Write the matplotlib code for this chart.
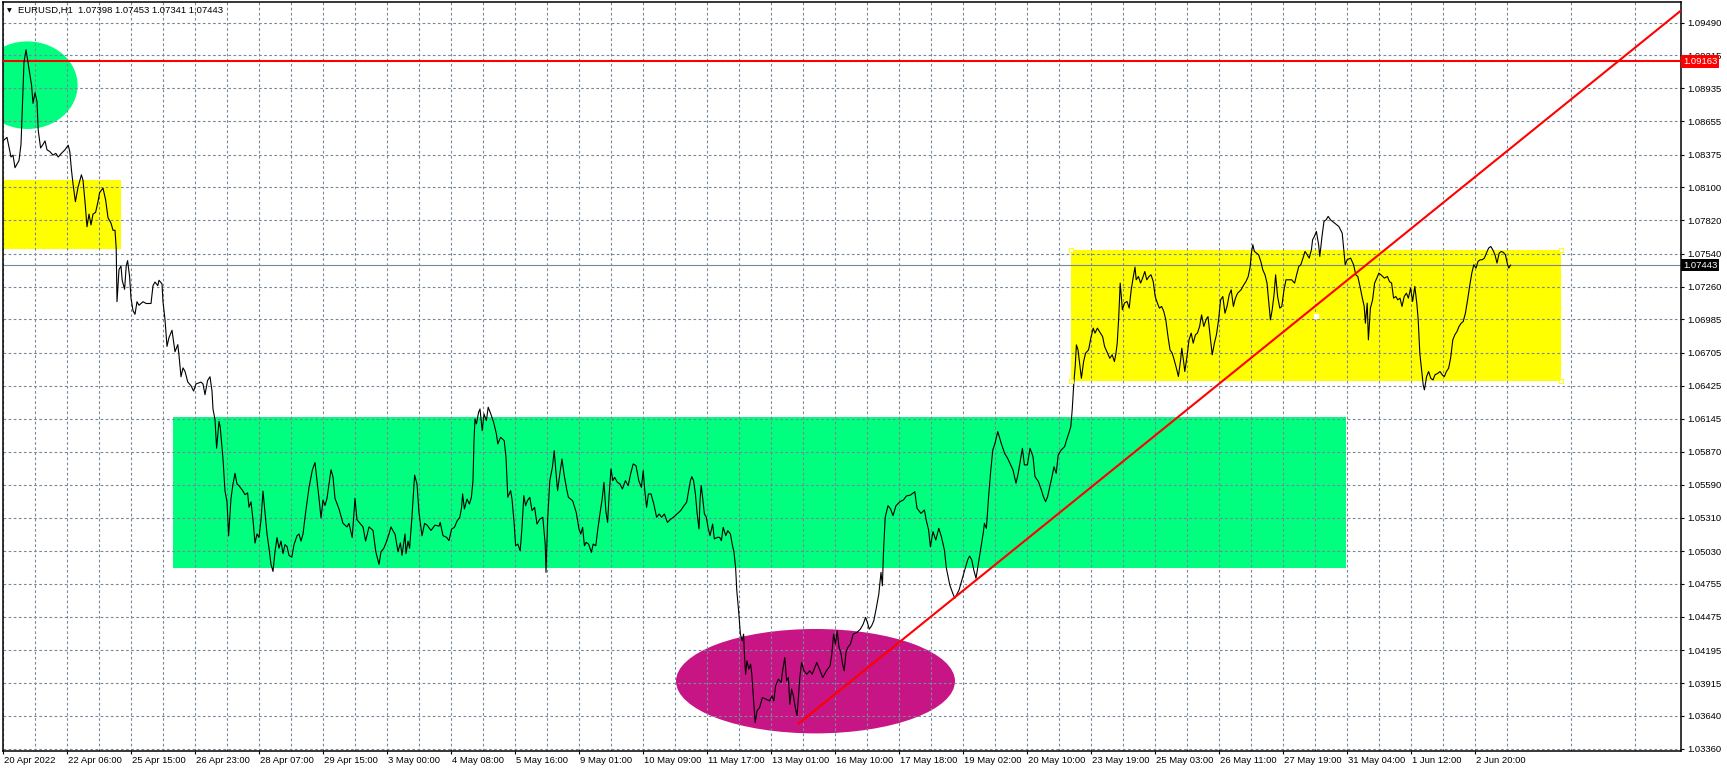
import matplotlib
matplotlib.use("Agg")
import matplotlib.pyplot as plt
import matplotlib.transforms as mtransforms
from matplotlib.patches import Ellipse, Rectangle

# EURUSD H1, closes. bar 0 = 20 Apr 2022 00:00
price_trace = [
    (0, 1.08491), (2, 1.08521), (4, 1.08355), (5, 1.08371), (6, 1.08265), (8, 1.08325), (9, 1.08461),
    (10, 1.08913), (10.5, 1.09155), (11.5, 1.09260), (12.6, 1.09140), (14.3, 1.08959), (15, 1.08808),
    (16, 1.08898), (17, 1.08823), (17.6, 1.08582), (18.8, 1.08431), (20, 1.08461), (21, 1.08491),
    (22, 1.08416), (23.4, 1.08401), (25, 1.08371), (26.4, 1.08386), (27.6, 1.08355), (29.2, 1.08386),
    (31, 1.08416), (32.6, 1.08455), (33.4, 1.08401), (34.2, 1.08250), (35, 1.08129), (36.2, 1.07978),
    (37.5, 1.08099), (39.2, 1.08205), (40, 1.08159), (41, 1.07978), (42, 1.07767), (43, 1.07873),
    (44, 1.07782), (45, 1.07873), (46.3, 1.07888), (47.5, 1.07978), (48.3, 1.08054), (50, 1.08093),
    (51.3, 1.07994), (52.5, 1.07843), (54, 1.07797), (55, 1.07737), (56, 1.07737), (56.6, 1.07586),
    (57, 1.07134), (58, 1.07405), (59, 1.07435), (59.6, 1.07315), (60.8, 1.07239), (61.6, 1.07435),
    (62.3, 1.07481), (63.3, 1.07345), (64, 1.07164), (65, 1.07059), (66, 1.07028), (67, 1.07134),
    (68, 1.07104), (69, 1.07119), (70, 1.07134), (71.6, 1.07119), (74, 1.07119), (75, 1.07270),
    (76, 1.07300), (77.4, 1.07270), (78, 1.07315), (79.5, 1.07285), (80, 1.07134), (81, 1.06983),
    (82, 1.06757), (83, 1.06832), (84.5, 1.06893), (86, 1.06712), (87.4, 1.06772), (88, 1.06682),
    (89, 1.06501), (90, 1.06576), (91, 1.06546), (92.4, 1.06456), (94, 1.06425), (95.3, 1.06380),
    (96.5, 1.06440), (99, 1.06456), (100, 1.06440), (101, 1.06350), (102.3, 1.06470), (103.5, 1.06501),
    (104.5, 1.06380), (105, 1.06229), (106, 1.06139), (106.8, 1.05898), (108, 1.06124), (108.6, 1.06078),
    (110, 1.05807), (111, 1.05536), (112, 1.05445), (112.8, 1.05159), (114, 1.05475), (115, 1.05596),
    (116, 1.05686), (117, 1.05596), (118, 1.05581), (120, 1.05536), (121, 1.05506), (122.3, 1.05521),
    (123, 1.05400), (124, 1.05445), (125, 1.05294), (126, 1.05098), (127, 1.05174), (128, 1.05144),
    (129, 1.05294), (130, 1.05536), (131, 1.05355), (132, 1.05174), (133, 1.05054), (134, 1.04918),
    (135, 1.04858), (136, 1.05024), (137, 1.05144), (138, 1.05054), (139, 1.05114), (140, 1.05009),
    (141, 1.05084), (142, 1.05069), (143, 1.04994), (144.4, 1.04978), (145.5, 1.05084), (147, 1.05159),
    (148, 1.05174), (149, 1.05114), (150, 1.05174), (151.3, 1.05355), (153, 1.05566), (154.7, 1.05716),
    (156, 1.05777), (157, 1.05626), (158, 1.05475), (159, 1.05310), (160, 1.05460), (161, 1.05415),
    (162, 1.05475), (164, 1.05716), (165, 1.05656), (166, 1.05475), (168, 1.05385), (170, 1.05264),
    (172, 1.05234), (173, 1.05264), (174.6, 1.05144), (176, 1.05475), (177, 1.05294), (180, 1.05234),
    (181.3, 1.05114), (183, 1.05234), (185, 1.05204), (186.4, 1.05024), (188, 1.04918), (189, 1.05024),
    (190.4, 1.05054), (191.5, 1.05099), (193, 1.05174), (194, 1.05234), (195.4, 1.05189), (196, 1.05174),
    (197.5, 1.05024), (198.7, 1.05099), (199.5, 1.04994), (201, 1.05174), (201.5, 1.05009), (202.5, 1.05114),
    (203.3, 1.05054), (204.5, 1.05325), (205.8, 1.05671), (207, 1.05596), (208, 1.05355), (209.5, 1.05159),
    (210.8, 1.05264), (212, 1.05249), (214, 1.05204), (216, 1.05249), (218, 1.05240),
    (218.6, 1.05272), (220, 1.05160), (221.8, 1.05146), (223, 1.05118), (224.3, 1.05216), (225.7, 1.05230),
    (227.1, 1.05286), (228.4, 1.05315), (229.3, 1.05399), (229.8, 1.05512), (230.7, 1.05385), (232, 1.05469),
    (233.2, 1.05427), (234.2, 1.05484), (235, 1.05624), (235.5, 1.05962), (236, 1.06145), (236.7, 1.06103),
    (237.8, 1.06201), (238.5, 1.06229), (239.6, 1.06046), (240.5, 1.06187), (241.7, 1.06131), (242.6, 1.06244),
    (243.9, 1.06187), (245.3, 1.06117), (246.7, 1.06018), (247.4, 1.05934), (248.8, 1.05990), (250.6, 1.05962),
    (251.5, 1.05821), (252.4, 1.05484), (253.8, 1.05540), (254.5, 1.05469), (255.6, 1.05258), (256.3, 1.05075),
    (257.4, 1.05089), (258.6, 1.05033), (259.5, 1.05230), (260.4, 1.05498), (261.3, 1.05413), (262.2, 1.05455),
    (263.4, 1.05484), (264.5, 1.05371), (265.8, 1.05399), (267, 1.05258), (268.4, 1.05300), (269.9, 1.05315),
    (271.1, 1.05089), (271.5, 1.04850), (272.3, 1.05286), (273.4, 1.05624), (274.7, 1.05737), (275.6, 1.05878),
    (276.4, 1.05709), (277.3, 1.05540), (278.4, 1.05681), (279.5, 1.05807), (280.5, 1.05681), (281.8, 1.05554),
    (282.7, 1.05484), (284.8, 1.05455), (286.6, 1.05357), (288, 1.05216), (288.9, 1.05174), (289.8, 1.05230),
    (290.7, 1.05075), (291.6, 1.05103), (292.8, 1.05089), (294.2, 1.05019), (295.1, 1.05089), (296.4, 1.05075),
    (297.3, 1.05202), (298.7, 1.05371), (299.6, 1.05469), (300.5, 1.05610), (301.4, 1.05371), (302.3, 1.05272),
    (303.1, 1.05512), (304, 1.05723), (304.9, 1.05624), (305.8, 1.05652), (307.2, 1.05610), (308.5, 1.05596),
    (309.7, 1.05554), (311.2, 1.05624), (312.6, 1.05582), (313.8, 1.05681), (315.1, 1.05765), (316.5, 1.05751),
    (317.9, 1.05624), (319.2, 1.05568), (320.1, 1.05709), (320.9, 1.05540), (321.8, 1.05399), (322.7, 1.05512),
    (324, 1.05512), (325.4, 1.05427), (326.8, 1.05315), (328.1, 1.05343), (329.3, 1.05315), (330.7, 1.05343),
    (332.2, 1.05272), (333.9, 1.05300), (335.2, 1.05315), (337, 1.05343), (338.8, 1.05371), (340.5, 1.05413),
    (341.8, 1.05441), (342.8, 1.05540), (343.7, 1.05624), (344.4, 1.05658), (345.3, 1.05624), (346.2, 1.05512),
    (347.1, 1.05343), (348, 1.05216), (348.5, 1.05455), (349.1, 1.05582), (349.8, 1.05484), (350.7, 1.05343),
    (351.7, 1.05315), (352.5, 1.05230), (353.5, 1.05160), (354.8, 1.05258), (355.7, 1.05132), (357.1, 1.05146),
    (358.3, 1.05146), (359.2, 1.05118), (360.1, 1.05230), (361.4, 1.05160), (362.4, 1.05202), (363.7, 1.05174),
    (364.6, 1.05089), (365.5, 1.05019), (366.3, 1.04892), (366.9, 1.04695), (367.8, 1.04526), (368.7, 1.04329),
    (369.6, 1.04273), (370.3, 1.04329), (370.8, 1.04132), (371.3, 1.03991), (372, 1.04104), (372.9, 1.04034),
    (373.8, 1.04076), (374.4, 1.03991), (375.3, 1.03766), (376.1, 1.03583), (377, 1.03682), (378.3, 1.03710),
    (379.7, 1.03794), (381.5, 1.03780), (383.3, 1.03766), (384.5, 1.03808), (385.4, 1.03766), (386.3, 1.03893),
    (387.7, 1.03949), (389.1, 1.03921), (389.8, 1.04020), (390.9, 1.04132), (391.8, 1.03935), (392.7, 1.03963),
    (393.4, 1.03738), (394.3, 1.03865), (395.2, 1.03808), (396.3, 1.03696), (397, 1.03640), (397.7, 1.03794),
    (398.4, 1.03963), (399.3, 1.04090), (400.5, 1.04020), (401.9, 1.03991), (403.4, 1.04020), (404.6, 1.03991),
    (405.9, 1.04048), (406.9, 1.04090), (408.2, 1.04034), (409.9, 1.03963), (411.7, 1.04020), (413.5, 1.04062),
    (414.4, 1.04160), (415.3, 1.04329), (416.2, 1.04245), (417.1, 1.04357), (418, 1.04217), (418.9, 1.04175),
    (419.8, 1.04076), (420.6, 1.04020), (421.5, 1.04175), (422.4, 1.04217), (423.7, 1.04245), (425.1, 1.04329),
    (426.9, 1.04343), (428.7, 1.04371), (430.1, 1.04414), (431.3, 1.04470), (432.2, 1.04428), (433.1, 1.04371),
    (434.3, 1.04399), (435.4, 1.04442), (436.7, 1.04554), (437.9, 1.04667), (439, 1.04850), (439.7, 1.04737),
    (440.2, 1.05005), (441.1, 1.05315), (442.5, 1.05413), (443.8, 1.05385), (445, 1.05329), (446.5, 1.05413),
    (448.5, 1.05447), (450.2, 1.05461), (451.7, 1.05495), (453.8, 1.05503), (455.9, 1.05531), (457, 1.05391),
    (459, 1.05348), (460.7, 1.05377), (461.6, 1.05292), (462.8, 1.05208), (463.7, 1.05067), (465, 1.05194),
    (466.4, 1.05123), (467.9, 1.05222), (469.2, 1.05151), (470.7, 1.05039), (471.7, 1.04884), (473.4, 1.04743),
    (474.9, 1.04673), (475.9, 1.04631), (478, 1.04701), (479.7, 1.04800), (481.2, 1.04884), (482.3, 1.04954),
    (483.3, 1.04988), (484.4, 1.04954), (485.4, 1.04870), (486.5, 1.04800), (487.7, 1.04926), (489, 1.05067),
    (490.1, 1.05180), (490.7, 1.05264), (491.7, 1.05222), (492.8, 1.05489), (493.9, 1.05714), (494.9, 1.05883),
    (496, 1.05940), (497.4, 1.06038), (499.1, 1.05940), (500.8, 1.05855), (502.3, 1.05813), (503.8, 1.05757),
    (505, 1.05714), (506.5, 1.05602), (507.6, 1.05686), (508.6, 1.05785), (509.7, 1.05897), (510.7, 1.05757),
    (512.2, 1.05757), (513.5, 1.05897), (515, 1.05827), (516, 1.05658), (517.7, 1.05616), (519.2, 1.05545),
    (520.2, 1.05489), (521.3, 1.05447), (522.3, 1.05489), (523.4, 1.05574), (524.5, 1.05658), (525.5, 1.05742),
    (526.6, 1.05686), (527.6, 1.05841), (529.1, 1.05883), (530.8, 1.05911), (531.8, 1.05968), (532.9, 1.06024),
    (533.9, 1.06080), (534.6, 1.06221), (535, 1.06334), (535.4, 1.06446), (536.1, 1.06587), (536.7, 1.06770),
    (537.5, 1.06728), (538.2, 1.06629), (539.2, 1.06488), (540.3, 1.06629), (541.3, 1.06700), (542.8, 1.06728),
    (543.9, 1.06826), (545.1, 1.06911), (546, 1.06869), (547.2, 1.06911), (548.7, 1.06869), (549.8, 1.06840),
    (550.8, 1.06756), (551.9, 1.06714), (553.4, 1.06657), (554.6, 1.06686), (555.7, 1.06629), (556.5, 1.06700),
    (557.1, 1.06784), (557.8, 1.06981), (558.6, 1.07291), (559.7, 1.07066), (560.7, 1.07122), (562, 1.07136),
    (563.1, 1.07080), (564.1, 1.07234), (564.9, 1.07319), (566, 1.07426), (566.6, 1.07319), (567.7, 1.07347),
    (568.8, 1.07291), (569.8, 1.07333), (570.9, 1.07389), (571.9, 1.07319), (573, 1.07347), (574, 1.07361),
    (575.1, 1.07305), (576.1, 1.07178), (577.2, 1.07122), (578.2, 1.07080), (579.3, 1.07094), (580.4, 1.07052),
    (581.4, 1.06981), (582.5, 1.06840), (583.5, 1.06728), (584.6, 1.06700), (585.6, 1.06643), (586.7, 1.06573),
    (587.7, 1.06503), (588.8, 1.06643), (589.4, 1.06742), (590.3, 1.06629), (590.9, 1.06545), (592, 1.06672),
    (593, 1.06812), (594.1, 1.06869), (595.1, 1.06784), (596.2, 1.06854), (597.2, 1.06869), (598.3, 1.06925),
    (599.3, 1.07023), (600.4, 1.06925), (601.5, 1.06981), (602.5, 1.07009), (603.6, 1.06840), (604.6, 1.06686),
    (605.7, 1.06784), (606.7, 1.06854), (607.8, 1.06981), (608.8, 1.07150), (609.9, 1.07178), (611, 1.07037),
    (612, 1.07094), (613.1, 1.07192), (614.1, 1.07234), (615.2, 1.07094), (616.2, 1.07164), (617.3, 1.07206),
    (619, 1.07234), (620.4, 1.07277), (621.5, 1.07305), (622.6, 1.07347), (623.6, 1.07432), (624.2, 1.07544),
    (624.9, 1.07615), (625.7, 1.07558), (626.8, 1.07544), (627.8, 1.07530), (628.9, 1.07474), (629.9, 1.07403),
    (631, 1.07361), (632, 1.07291), (633.1, 1.07094), (633.7, 1.06981), (634.6, 1.07066), (635.6, 1.07206),
    (636.3, 1.07361), (637.3, 1.07178), (638.4, 1.07080), (639.4, 1.07094), (640.5, 1.07234), (641.5, 1.07319),
    (642.6, 1.07319), (644.3, 1.07319), (645.8, 1.07291), (646.8, 1.07361), (647.9, 1.07432), (648.9, 1.07446),
    (650, 1.07502), (651, 1.07558), (652.1, 1.07530), (653.1, 1.07502), (654.2, 1.07572), (654.8, 1.07657),
    (655.7, 1.07685), (656.7, 1.07727), (657.8, 1.07615), (658.4, 1.07516), (659.5, 1.07685), (660.5, 1.07812),
    (661.6, 1.07826), (662.6, 1.07854), (663.7, 1.07826), (665.8, 1.07797), (667.9, 1.07769), (669.6, 1.07713),
    (670.4, 1.07572), (671.1, 1.07446), (672.1, 1.07488), (673.8, 1.07502), (675.3, 1.07446), (676.4, 1.07361),
    (677.4, 1.07347), (678.5, 1.07263), (679.5, 1.07178), (680.6, 1.07094), (681.2, 1.06953), (682.1, 1.07122),
    (682.7, 1.06812), (683.7, 1.07080), (684.8, 1.07150), (685.8, 1.07291), (686.9, 1.07333), (687.9, 1.07375),
    (689, 1.07361), (690.7, 1.07333), (692.2, 1.07347), (693.2, 1.07305), (694.3, 1.07291), (695.3, 1.07164),
    (696.4, 1.07178), (697.4, 1.07150), (698.5, 1.07164), (699.5, 1.07094), (700.6, 1.07178), (701.7, 1.07206),
    (702.7, 1.07164), (703.8, 1.07249), (704.8, 1.07136), (705.9, 1.07263), (706.9, 1.07122), (707.6, 1.06981),
    (708.4, 1.06700), (709.1, 1.06587), (710.1, 1.06432), (710.7, 1.06390), (711.8, 1.06503), (712.8, 1.06545),
    (713.9, 1.06488), (715, 1.06474), (716, 1.06517), (717.5, 1.06531), (718.5, 1.06545), (719.6, 1.06517),
    (720.7, 1.06503), (721.7, 1.06545), (722.8, 1.06573), (723.8, 1.06657), (724.9, 1.06812), (725.9, 1.06854),
    (727, 1.06883), (728, 1.06925), (729.1, 1.06953), (730.1, 1.06967), (731.2, 1.07037), (732.3, 1.07150),
    (733.3, 1.07263), (734.4, 1.07375), (735.4, 1.07446), (736.5, 1.07418), (737.5, 1.07474), (738.6, 1.07488),
    (739.6, 1.07488), (740.7, 1.07502), (741.7, 1.07544), (742.8, 1.07586), (743.9, 1.07600), (744.9, 1.07572),
    (746, 1.07530), (747, 1.07460), (748.1, 1.07544), (749.1, 1.07558), (750.2, 1.07550), (751.2, 1.07530),
    (752.3, 1.07446), (752.9, 1.07418), (753.8, 1.07443),
]
bars = [b for b, _ in price_trace]
closes = [c for _, c in price_trace]

# time scale labels, one every 32 H1 bars
time_labels = ["20 Apr 2022", "22 Apr 06:00", "25 Apr 15:00", "26 Apr 23:00", "28 Apr 07:00",
               "29 Apr 15:00", "3 May 00:00", "4 May 08:00", "5 May 16:00", "9 May 01:00",
               "10 May 09:00", "11 May 17:00", "13 May 01:00", "16 May 10:00", "17 May 18:00",
               "19 May 02:00", "20 May 10:00", "23 May 19:00", "25 May 03:00", "26 May 11:00",
               "27 May 19:00", "31 May 04:00", "1 Jun 12:00", "2 Jun 20:00"]
label_step = 32
grid_step = 16

price_ticks = [1.03360, 1.03640, 1.03915, 1.04195, 1.04475, 1.04755, 1.05030, 1.05310,
               1.05590, 1.05870, 1.06145, 1.06425, 1.06705, 1.06985, 1.07260, 1.07540,
               1.07820, 1.08100, 1.08375, 1.08655, 1.08935, 1.09215, 1.09490]

header = "EURUSD,H1  1.07398 1.07453 1.07341 1.07443"
bid = 1.07443
resistance = 1.09163

# trend ray: anchor bars / prices
trend_bars = [397.4, 680.6]
trend_prices = [1.03569, 1.07431]

# rectangles: (bar from, bar to, price low, price high)
rect_yellow_top = (-2, 58.8, 1.07579, 1.08161)
rect_green = (85, 671.5, 1.04890, 1.06161)
rect_yellow_right = (534.2, 779, 1.06462, 1.07570)
# ellipses: (centre bar, centre price, width in bars, height in price)
ell_green = (12.2, 1.08961, 50.2, 0.00739)
ell_magenta = (406.25, 1.03932, 139.5, 0.00881)

GRID = "#778899"
FONT = "Liberation Sans"
FS = 6.8

W, H = 1727, 772
fig = plt.figure(figsize=(W / 100, H / 100), dpi=100)
ax = fig.add_axes([3 / W, 21 / H, 1678 / W, 749 / H])
ax.set_xlim(0, 839)
ax.set_ylim(1.03343, 1.09663)

for b0, b1, lo, hi, col in [rect_yellow_top + ("#FFFF00",), rect_green + ("#00FF7F",),
                            rect_yellow_right + ("#FFFF00",)]:
    ax.add_patch(Rectangle((b0, lo), b1 - b0, hi - lo, fc=col, ec="none", zorder=1))
for cb, cp, w, h, col in [ell_green + ("#00FF7F",), ell_magenta + ("#C71585",)]:
    ax.add_patch(Ellipse((cb, cp), w, h, fc=col, ec="none", zorder=1))

# selection handles of the right yellow box
b0, b1, lo, hi = rect_yellow_right
ax.plot([b0, b0, b1, b1], [lo, hi, lo, hi], ls="none", marker="s", ms=3, mfc="white",
        mec="#FFFF00", mew=0.7, zorder=5, clip_on=False)
ax.plot([(b0 + b1) / 2], [(lo + hi) / 2], ls="none", marker="s", ms=2.2, mfc="white",
        mec="white", zorder=5)

ax.axhline(bid, color=GRID, lw=0.8, zorder=2)
ax.axhline(resistance, color="#FF0000", lw=1.5, zorder=2.6)
ax.plot(bars, closes, color="black", lw=0.8, zorder=3)

x_end = ax.get_xlim()[1]
slope = (trend_prices[1] - trend_prices[0]) / (trend_bars[1] - trend_bars[0])
ax.plot([trend_bars[0], x_end], [trend_prices[0], trend_prices[0] + slope * (x_end - trend_bars[0])],
        color="#FF0000", lw=1.5, zorder=4, solid_capstyle="butt")

# axes, ticks, grid
ax.yaxis.tick_right()
ax.set_yticks(price_ticks)
ax.set_yticklabels([f"{p:.5f}" for p in price_ticks])
ax.set_xticks([i * label_step for i in range(len(time_labels))])
ax.set_xticklabels(time_labels)
ax.set_xticks(range(grid_step, 839, label_step), minor=True)
ax.tick_params(axis="both", which="major", direction="out", length=2.3, width=0.8,
               labelsize=FS, colors="black")
ax.tick_params(axis="x", which="major", pad=1.2)
ax.tick_params(axis="y", which="major", pad=2.4)
ax.tick_params(axis="x", which="minor", length=0)
for lab in ax.get_xticklabels() + ax.get_yticklabels():
    lab.set_fontfamily(FONT)
shift = mtransforms.ScaledTranslation(1.2 / 100, 0, fig.dpi_scale_trans)
for lab in ax.get_xticklabels():
    lab.set_horizontalalignment("left")
    lab.set_transform(lab.get_transform() + shift)

ax.set_axisbelow("line")
dash = (0, (2.4, 2.2))
ax.grid(True, which="both", axis="x", color=GRID, lw=0.8, ls=dash)
ax.grid(True, which="major", axis="y", color=GRID, lw=0.8, ls=dash)
for s in ax.spines.values():
    s.set_linewidth(1.1)
    s.set_color("black")

# price tags on the scale
for val, bg in [(resistance, "#FF0000"), (bid, "black")]:
    ax.annotate(f"{val:.5f}", xy=(1, val), xycoords=("axes fraction", "data"),
                xytext=(1.6, 0), textcoords="offset points", ha="left", va="center",
                fontsize=FS, fontfamily=FONT, color="white", zorder=10, annotation_clip=False,
                bbox=dict(boxstyle="square,pad=0.2", fc=bg, ec="none"))

fig.text(7 / W, 1 - 11 / H, "\u25bc", fontsize=4.5, family="DejaVu Sans", va="center", ha="left")
fig.text(18 / W, 1 - 10.7 / H, header, fontsize=FS, family=FONT, va="center", ha="left")

fig.savefig("out.png", dpi=100, facecolor="white")
